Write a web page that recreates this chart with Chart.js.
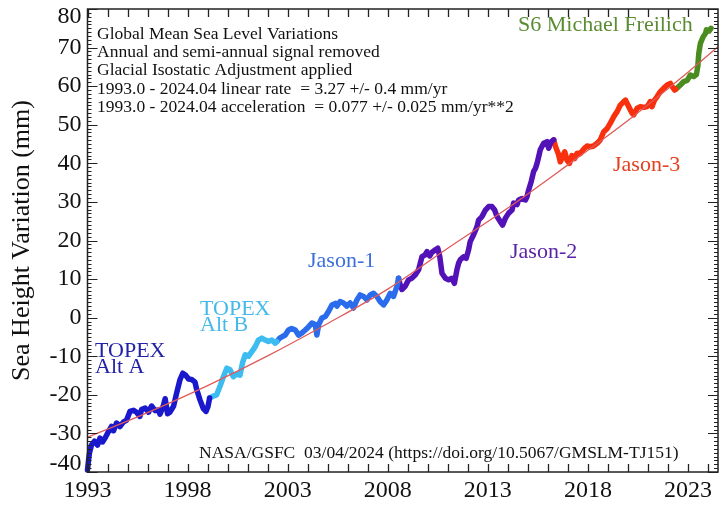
<!DOCTYPE html>
<html>
<head>
<meta charset="utf-8">
<script src="https://cdn.jsdelivr.net/npm/chart.js@4.4.1/dist/chart.umd.min.js"></script>
<style>
  html, body { margin: 0; padding: 0; background: #ffffff; }
  #wrap { width: 725px; height: 507px; position: relative; }
</style>
</head>
<body>
<div id="wrap"><canvas id="gmsl"></canvas></div>
<script>
// Axis ticks
const xTickYears = [1993, 1998, 2003, 2008, 2013, 2018, 2023];
const yTickMm = [-40, -30, -20, -10, 0, 10, 20, 30, 40, 50, 60, 70, 80];

// TOPEX/Poseidon, side A altimeter
const topexAYear = [1993.00, 1993.05, 1993.10, 1993.20, 1993.35, 1993.50, 1993.62, 1993.75, 1993.90, 1994.05,
  1994.20, 1994.30, 1994.45, 1994.62, 1994.80, 1994.95, 1995.12, 1995.30, 1995.45, 1995.62,
  1995.70, 1995.88, 1996.05, 1996.20, 1996.38, 1996.55, 1996.62, 1996.78, 1996.88, 1997.00,
  1997.12, 1997.30, 1997.45, 1997.62, 1997.76, 1997.92, 1998.05, 1998.20, 1998.37, 1998.45,
  1998.62, 1998.78, 1998.92, 1999.02, 1999.10];
const topexAMm = [-39.5, -37.0, -35.0, -33.0, -32.0, -33.0, -31.2, -32.2, -31.0, -29.5,
  -28.2, -29.3, -27.3, -28.2, -27.0, -26.6, -24.3, -24.0, -24.5, -25.6,
  -23.8, -23.4, -24.5, -22.9, -24.1, -23.9, -25.0, -23.0, -21.0, -24.9,
  -24.5, -22.9, -19.6, -16.1, -14.4, -15.0, -15.9, -16.0, -16.7, -18.5,
  -21.3, -23.5, -24.3, -23.0, -20.8];

// TOPEX/Poseidon, side B altimeter
const topexBYear = [1999.10, 1999.30, 1999.45, 1999.62, 1999.79, 1999.96, 2000.12, 2000.29, 2000.45, 2000.62,
  2000.74, 2000.88, 2001.04, 2001.21, 2001.38, 2001.54, 2001.71, 2001.88, 2002.04, 2002.21,
  2002.38, 2002.46];
const topexBMm = [-20.8, -20.3, -20.0, -17.8, -15.3, -13.1, -13.5, -15.3, -14.6, -14.9,
  -11.8, -9.6, -10.0, -8.8, -7.5, -5.8, -5.3, -5.8, -6.2, -5.8,
  -6.6, -6.2];

// Jason-1
const jason1Year = [2002.46, 2002.60, 2002.88, 2003.04, 2003.20, 2003.38, 2003.54, 2003.70, 2003.88, 2004.04,
  2004.21, 2004.38, 2004.46, 2004.55, 2004.71, 2004.88, 2005.04, 2005.21, 2005.38, 2005.46,
  2005.62, 2005.79, 2005.96, 2006.12, 2006.29, 2006.46, 2006.62, 2006.79, 2006.96, 2007.12,
  2007.29, 2007.46, 2007.62, 2007.79, 2007.96, 2008.12, 2008.29, 2008.46, 2008.54];
const jason1Mm = [-6.2, -5.3, -4.5, -3.2, -2.8, -3.2, -4.5, -4.0, -3.2, -2.4,
  -1.4, -1.8, -4.5, -1.8, -0.1, 0.3, 1.6, 3.3, 3.7, 3.0,
  4.2, 3.8, 3.0, 3.8, 2.5, 4.6, 5.9, 5.5, 4.6, 5.9,
  6.3, 5.5, 4.2, 3.3, 4.6, 6.3, 5.5, 8.1, 10.2];

// OSTM/Jason-2
const jason2Year = [2008.54, 2008.62, 2008.71, 2008.88, 2009.04, 2009.20, 2009.38, 2009.54, 2009.71, 2009.85,
  2009.96, 2010.10, 2010.20, 2010.38, 2010.50, 2010.60, 2010.71, 2010.88, 2011.04, 2011.20,
  2011.33, 2011.46, 2011.54, 2011.62, 2011.79, 2011.92, 2012.04, 2012.12, 2012.29, 2012.46,
  2012.54, 2012.71, 2012.88, 2013.04, 2013.21, 2013.34, 2013.46, 2013.62, 2013.74, 2013.88,
  2014.04, 2014.21, 2014.29, 2014.46, 2014.54, 2014.71, 2014.88, 2014.96, 2015.04, 2015.17,
  2015.29, 2015.38, 2015.46, 2015.54, 2015.62, 2015.79, 2015.96, 2016.04, 2016.17, 2016.29];
const jason2Mm = [10.2, 8.5, 7.3, 8.2, 9.8, 10.2, 11.1, 12.4, 15.8, 16.2,
  17.1, 16.0, 16.9, 17.6, 18.0, 15.8, 11.5, 10.2, 9.8, 10.2,
  8.9, 12.5, 14.1, 15.0, 15.8, 15.4, 17.6, 19.7, 21.5, 23.6,
  25.3, 26.2, 27.9, 28.8, 28.8, 27.9, 26.2, 24.9, 24.0, 25.8,
  27.1, 27.9, 29.7, 29.3, 30.5, 30.9, 30.5, 31.4, 33.1, 35.3,
  37.9, 38.7, 40.0, 41.7, 43.5, 45.2, 45.6, 43.9, 45.6, 46.1];

// Jason-3
const jason3Year = [2016.29, 2016.38, 2016.54, 2016.62, 2016.72, 2016.84, 2016.96, 2017.08, 2017.20, 2017.33,
  2017.46, 2017.62, 2017.79, 2017.96, 2018.12, 2018.29, 2018.46, 2018.62, 2018.79, 2018.96,
  2019.12, 2019.29, 2019.46, 2019.62, 2019.79, 2019.88, 2019.96, 2020.04, 2020.21, 2020.29,
  2020.46, 2020.62, 2020.79, 2020.96, 2021.12, 2021.20, 2021.33, 2021.46, 2021.62, 2021.79,
  2021.96, 2022.12, 2022.20, 2022.33, 2022.38];
const jason3Mm = [46.1, 44.4, 42.2, 40.4, 41.5, 43.0, 40.8, 40.0, 42.0, 41.2,
  42.6, 42.5, 43.7, 44.5, 44.3, 44.5, 45.2, 46.1, 48.2, 49.0,
  50.4, 52.1, 53.4, 55.1, 56.0, 56.4, 55.5, 54.7, 53.0, 52.6,
  54.3, 54.7, 54.5, 54.7, 56.0, 54.7, 56.4, 57.3, 58.6, 59.5,
  60.3, 60.7, 60.0, 59.0, 59.2];

// Sentinel-6 Michael Freilich
const s6Year = [2022.38, 2022.46, 2022.62, 2022.79, 2022.96, 2023.12, 2023.29, 2023.42, 2023.49, 2023.54,
  2023.62, 2023.76, 2023.88, 2023.92, 2024.05, 2024.15];
const s6Mm = [59.2, 59.5, 60.3, 61.2, 61.5, 62.9, 62.5, 63.0, 65.1, 68.5,
  71.1, 72.8, 73.7, 74.6, 74.3, 75.0];

// Quadratic trend (rate 3.27 mm/yr, acceleration 0.077 mm/yr^2)
const trendYear = [1993, 1996, 1999, 2002, 2005, 2008, 2011, 2014, 2017, 2020, 2023, 2024.5];
const trendMm = [-31.0, -24.6, -17.6, -9.9, -1.5, 7.4, 18.0, 28.4, 39.6, 51.1, 63.6, 70.2];

const serif = '"Liberation Serif", "Times New Roman", Times, serif';
const pts = (xs, ys) => xs.map((x, i) => ({ x: x, y: ys[i] }));

function mission(label, xs, ys, color) {
  return {
    label: label,
    data: pts(xs, ys),
    borderColor: color,
    backgroundColor: color,
    borderWidth: 5.5,
    borderCapStyle: 'round',
    borderJoinStyle: 'round',
    pointRadius: 0,
    tension: 0,
    clip: false
  };
}

// Frame, inward ticks and annotations
const decorations = {
  id: 'decorations',
  afterDatasetsDraw(chart) {
    const ctx = chart.ctx;
    const a = chart.chartArea;
    const xs = chart.scales.x, ys = chart.scales.y;
    ctx.save();
    ctx.strokeStyle = '#222222';
    ctx.lineWidth = 1.3;
    ctx.beginPath();
    for (let yr = 1993; yr <= 2024; yr++) {
      const px = Math.round(xs.getPixelForValue(yr)) + 0.5;
      ctx.moveTo(px, a.bottom); ctx.lineTo(px, a.bottom - 8);
      ctx.moveTo(px, a.top); ctx.lineTo(px, a.top + 8);
    }
    ctx.stroke();
    ctx.lineWidth = 1;
    ctx.beginPath();
    for (let v = -40; v <= 80; v++) {
      const py = Math.round(ys.getPixelForValue(v)) + 0.5;
      const len = (v % 10 === 0) ? 10 : 4;
      ctx.moveTo(a.left, py); ctx.lineTo(a.left + len, py);
      ctx.moveTo(a.right, py); ctx.lineTo(a.right - len, py);
    }
    ctx.stroke();
    ctx.lineWidth = 1.5;
    ctx.strokeRect(a.left, a.top, a.right - a.left, a.bottom - a.top);
    ctx.restore();
  },
  afterDraw(chart) {
    const ctx = chart.ctx;
    ctx.save();
    ctx.textBaseline = 'alphabetic';
    ctx.textAlign = 'left';
    ctx.fillStyle = '#111111';
    ctx.font = '17.5px ' + serif;
    const info = [
      'Global Mean Sea Level Variations',
      'Annual and semi-annual signal removed',
      'Glacial Isostatic Adjustment applied',
      '1993.0 - 2024.04 linear rate  = 3.27 +/- 0.4 mm/yr',
      '1993.0 - 2024.04 acceleration  = 0.077 +/- 0.025 mm/yr**2'
    ];
    const baselines = [39, 57, 75, 94, 112];
    info.forEach((t, i) => ctx.fillText(t, 97, baselines[i]));
    ctx.fillText('NASA/GSFC  03/04/2024 (https://doi.org/10.5067/GMSLM-TJ151)', 199, 458);

    ctx.font = '22px ' + serif;
    const tags = [
      ['TOPEX', 95, 357, '#2222a8'],
      ['Alt A', 95, 373, '#2222a8'],
      ['TOPEX', 200, 315, '#45b9ea'],
      ['Alt B', 200, 331, '#45b9ea'],
      ['Jason-1', 308, 267, '#3b6fdc'],
      ['Jason-2', 510, 258, '#5a24a8'],
      ['Jason-3', 613, 171, '#e4401e'],
      ['S6 Michael Freilich', 518, 31, '#5a8c32']
    ];
    tags.forEach(([t, x, y, c]) => { ctx.fillStyle = c; ctx.fillText(t, x, y); });
    ctx.restore();
  }
};

new Chart(document.getElementById('gmsl'), {
  type: 'line',
  data: {
    datasets: [
      {
        label: 'Trend',
        data: pts(trendYear, trendMm),
        borderColor: '#e05a5a',
        borderWidth: 1.3,
        pointRadius: 0,
        cubicInterpolationMode: 'monotone',
        clip: false
      },
      mission('TOPEX Alt A', topexAYear, topexAMm, '#1a18cc'),
      mission('TOPEX Alt B', topexBYear, topexBMm, '#3cbcf0'),
      mission('Jason-1', jason1Year, jason1Mm, '#2a6cec'),
      mission('Jason-2', jason2Year, jason2Mm, '#5212b8'),
      mission('Jason-3', jason3Year, jason3Mm, '#f8300e'),
      mission('S6 Michael Freilich', s6Year, s6Mm, '#4a8c20')
    ]
  },
  options: {
    responsive: true,
    maintainAspectRatio: false,
    animation: false,
    devicePixelRatio: 1,
    layout: { padding: { left: 0, right: 7, top: 9, bottom: 0 } },
    plugins: { legend: { display: false }, tooltip: { enabled: false } },
    scales: {
      x: {
        type: 'linear',
        min: 1993,
        max: 2024.5,
        grid: { display: false, drawTicks: false },
        border: { display: false },
        afterBuildTicks: s => { s.ticks = xTickYears.map(v => ({ value: v })); },
        afterFit: s => { s.height = 35; s.paddingLeft = 0; s.paddingRight = 0; },
        ticks: {
          autoSkip: false,
          maxRotation: 0,
          padding: 4,
          color: '#111111',
          font: { family: serif, size: 24 },
          callback: v => String(v)
        }
      },
      y: {
        type: 'linear',
        min: -40,
        max: 80,
        grid: { display: false, drawTicks: false },
        border: { display: false },
        afterBuildTicks: s => { s.ticks = yTickMm.map(v => ({ value: v })); },
        afterFit: s => { s.width = 87.5; s.paddingTop = 0; s.paddingBottom = 0; },
        title: {
          display: true,
          text: 'Sea Height Variation (mm)',
          color: '#111111',
          font: { family: serif, size: 26 },
          padding: { top: 7, bottom: 0 }
        },
        ticks: {
          autoSkip: false,
          padding: 6,
          color: '#111111',
          font: { family: serif, size: 24, lineHeight: '16px' },
          callback: v => v === 80 ? ['', '80'] : (v === -40 ? ['-40', ''] : String(v))
        }
      }
    }
  },
  plugins: [decorations]
});
</script>
</body>
</html>
